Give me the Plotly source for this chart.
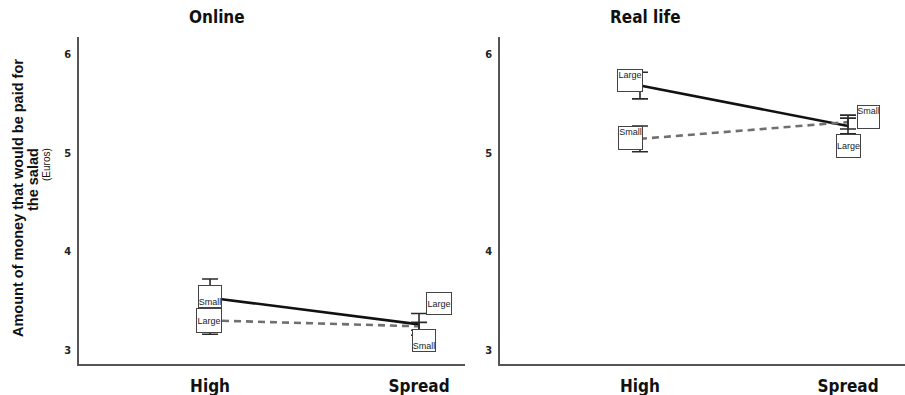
import plotly.graph_objects as go

# ---------------- data ----------------
categories = ["High", "Spread"]
panel_titles = ["Online", "Real life"]
y_ticks = [3, 4, 5, 6]

online_solid_mean = [3.53, 3.26]
online_solid_err = [0.19, 0.11]
online_solid_labels = ["Small", "Small"]

online_dashed_mean = [3.30, 3.24]
online_dashed_err = [0.14, 0.04]
online_dashed_labels = ["Large", "Large"]

real_solid_mean = [5.68, 5.27]
real_solid_err = [0.135, 0.08]
real_solid_labels = ["Large", "Large"]

real_dashed_mean = [5.14, 5.31]
real_dashed_err = [0.13, 0.07]
real_dashed_labels = ["Small", "Small"]

y_title_lines = ["Amount of money that would be paid for", "the salad", "(Euros)"]

# ---------------- styles ----------------
W, H = 905, 395
M_T, M_B = 37, 31
PLOT_H = H - M_T - M_B

COND = "DejaVu Sans Condensed, Liberation Sans Narrow, Arial Narrow, sans-serif"
ARIAL = "Liberation Sans, Arial, sans-serif"

solid_style = dict(color="#111111", width=2.6)
dashed_style = dict(color="#707070", width=2.6, dash="7px,5px")

# label box placement per (panel, series, category): xshift, yshift, w, h, valign
box_style = {
    ("x", "solid"): [(0, 1, 24, 23, "bottom"), (5, -16, 24, 23, "bottom")],
    ("x", "dashed"): [(-1, 0, 26, 25, "middle"), (20, 23, 26, 23, "middle")],
    ("x2", "solid"): [(-10, 5, 26, 23, "top"), (0, -20, 25, 24, "middle")],
    ("x2", "dashed"): [(-9, 1, 25, 24, "top"), (20, 5, 23, 24, "top")],
}

xpos = list(range(len(categories)))

fig = go.Figure()

series = [
    ("x", "y", "solid", online_solid_mean, online_solid_err, online_solid_labels),
    ("x", "y", "dashed", online_dashed_mean, online_dashed_err, online_dashed_labels),
    ("x2", "y2", "solid", real_solid_mean, real_solid_err, real_solid_labels),
    ("x2", "y2", "dashed", real_dashed_mean, real_dashed_err, real_dashed_labels),
]

annotations = []
for xa, ya, kind, mean, err, labels in series:
    line = solid_style if kind == "solid" else dashed_style
    fig.add_trace(go.Scatter(
        x=xpos, y=mean, mode="lines", line=line, xaxis=xa, yaxis=ya,
        showlegend=False, hoverinfo="skip"))
for xa, ya, kind, mean, err, labels in series:
    fig.add_trace(go.Scatter(
        x=xpos, y=mean, mode="markers", marker=dict(size=1, opacity=0),
        error_y=dict(type="data", array=err, visible=True, color="#2a2a2a",
                     thickness=1.6, width=8),
        xaxis=xa, yaxis=ya, showlegend=False, hoverinfo="skip"))
    for i, lab in enumerate(labels):
        xs, ys, bw, bh, va = box_style[(xa, kind)][i]
        annotations.append(dict(
            x=xpos[i], y=mean[i], xref=xa, yref=ya, text=lab, showarrow=False,
            xshift=xs, yshift=ys, width=bw - 2, height=bh - 2, valign=va,
            bgcolor="white", bordercolor="#444444", borderwidth=1, borderpad=0,
            font=dict(family=ARIAL, size=9, color="#222222")))

# panel titles
title_px = [217, 645]
for t, px in zip(panel_titles, title_px):
    annotations.append(dict(
        x=px / W, y=(H - M_B - 17) / PLOT_H, xref="paper", yref="paper",
        text=t, showarrow=False, xanchor="center", yanchor="middle",
        font=dict(family=COND, size=17, color="#111111", weight="bold")))

# y-axis title (three rotated lines)
ytitle_pos = [(18, 198, 14.5, "bold"), (33, 180, 14.5, "bold"), (46, 165, 10, "normal")]
for txt, (px, py, fs, wt) in zip(y_title_lines, ytitle_pos):
    annotations.append(dict(
        x=px / W, y=(H - M_B - py) / PLOT_H, xref="paper", yref="paper",
        text=txt, showarrow=False, textangle=-90, xanchor="center", yanchor="middle",
        font=dict(family=ARIAL, size=fs, color="#111111", weight=wt)))

yrange = [3 - 14 / 98.7, 6 + 17 / 98.7]

axis_common = dict(showgrid=False, zeroline=False, showline=True, linecolor="#555555",
                   linewidth=1.5, ticks="")

fig.update_layout(
    width=W, height=H,
    margin=dict(l=0, r=0, t=M_T, b=M_B),
    paper_bgcolor="white", plot_bgcolor="white",
    annotations=annotations,
    xaxis=dict(domain=[79 / W, 465 / W], range=[-0.627, 1.220], tickvals=xpos,
               ticktext=categories, ticklabelstandoff=6,
               tickfont=dict(family=COND, size=17, color="#111111", weight="bold"),
               **axis_common),
    xaxis2=dict(domain=[500 / W, 1.0], range=[-0.673, 1.274], tickvals=xpos,
                ticktext=categories, ticklabelstandoff=6,
                tickfont=dict(family=COND, size=17, color="#111111", weight="bold"),
                **axis_common),
    yaxis=dict(anchor="x", range=yrange, tickvals=y_ticks, ticklabelstandoff=4,
               tickfont=dict(family=COND, size=11, color="#222222", weight="bold"),
               **axis_common),
    yaxis2=dict(anchor="x2", range=yrange, tickvals=y_ticks, ticklabelstandoff=4,
                tickfont=dict(family=COND, size=11, color="#222222", weight="bold"),
                **axis_common),
)

fig.write_html(
    "out.html",
    config={"displayModeBar": False},
    post_script="document.body.style.margin='0px';document.body.style.overflow='hidden';",
)
